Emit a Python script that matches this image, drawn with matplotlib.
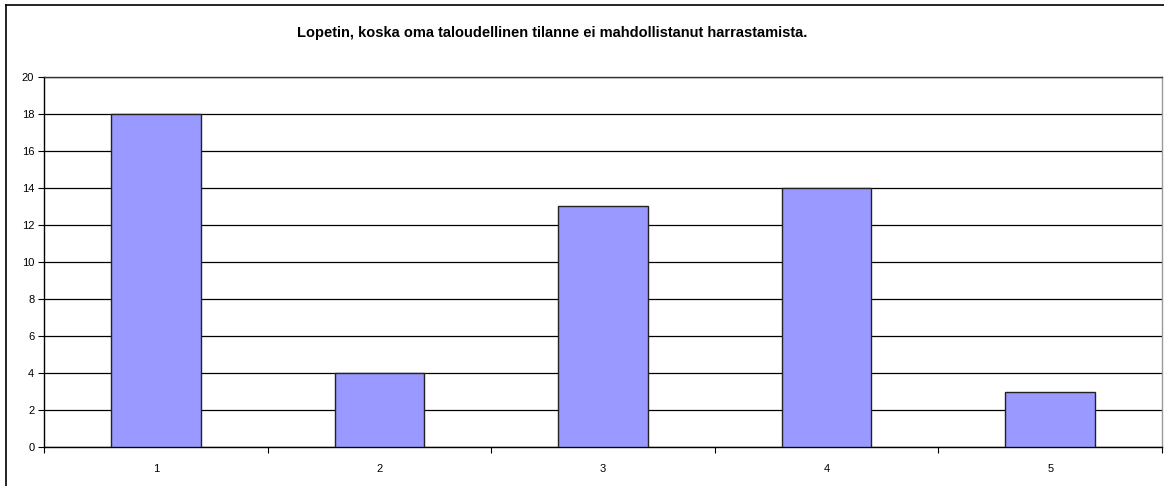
import matplotlib
matplotlib.use("Agg")
import matplotlib.pyplot as plt
from matplotlib.lines import Line2D
import numpy as np

plt.rcParams['font.family'] = ['Liberation Sans', 'DejaVu Sans']

categories = ["1", "2", "3", "4", "5"]
values = [18, 4, 13, 14, 3]
title = "Lopetin, koska oma taloudellinen tilanne ei mahdollistanut harrastamista."

W, H = 1164, 486
fig = plt.figure(figsize=(W / 100, H / 100), dpi=100)

# outer chart border (only top and left are visible, the rest is cropped)
fig.add_artist(Line2D([6 / W, 1.0], [1 - 5 / H, 1 - 5 / H], color="black", lw=1.2, transform=fig.transFigure))
fig.add_artist(Line2D([6 / W, 6 / W], [0.0, 1 - 5 / H], color="black", lw=1.2, transform=fig.transFigure))

left, right, top, bottom = 44, 1162, 77, 447
ax = fig.add_axes([left / W, (H - bottom) / H, (right - left) / W, (bottom - top) / H])

x = np.arange(len(categories)) + 0.5
ax.bar(x, values, width=0.4, color="#9999FF", edgecolor="#222222", linewidth=1, zorder=3)

ax.set_xlim(0, len(categories))
ax.set_ylim(0, 20)
ax.set_yticks(np.arange(0, 21, 2))
ax.yaxis.grid(True, color="black", lw=0.9, zorder=0)
ax.set_axisbelow(True)

ax.set_xticks(np.arange(0, len(categories) + 1), minor=False)
ax.set_xticklabels([])
ax.set_xticks(x, minor=True)
ax.set_xticklabels(categories, minor=True)
ax.tick_params(axis="x", which="major", length=4, direction="out", color="black")
ax.tick_params(axis="x", which="minor", length=0, pad=12, labelsize=8)
ax.tick_params(axis="y", length=4, direction="out", labelsize=8, pad=3)

ax.spines["top"].set_color("#333333")
ax.spines["right"].set_color("#999999")
for s in ["left", "bottom"]:
    ax.spines[s].set_color("black")
for s in ax.spines:
    ax.spines[s].set_linewidth(1)

fig.text(552 / W, 1 - 33 / H, title, ha="center", va="center", fontsize=10.5, fontweight="bold")

fig.savefig("out.png", dpi=100)
